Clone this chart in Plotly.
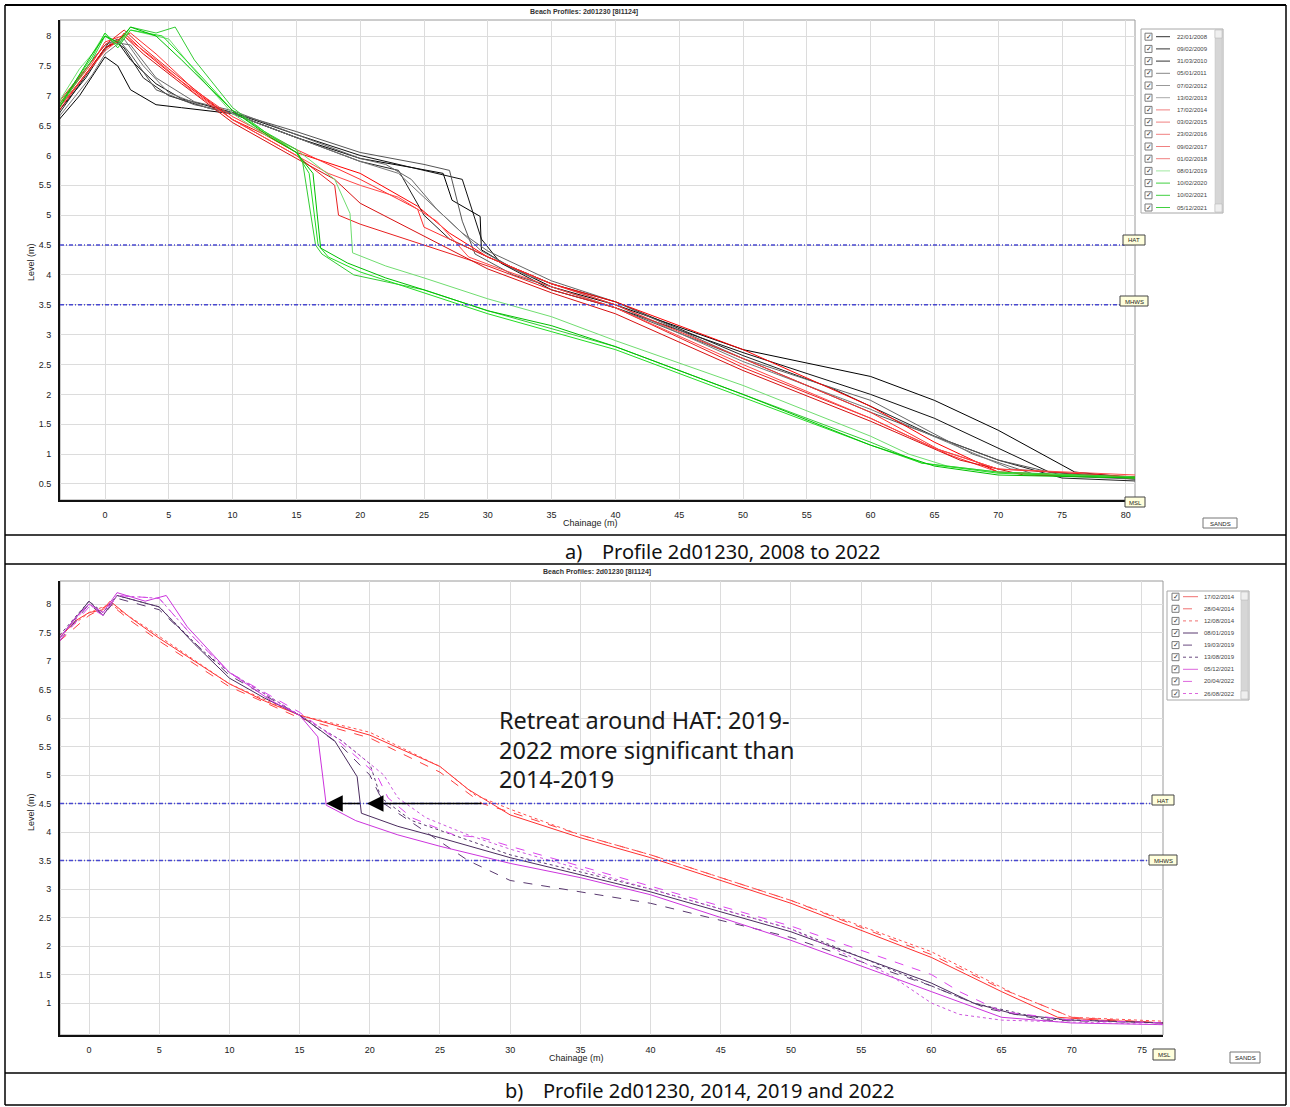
import plotly.graph_objects as go

W, H = 1290, 1107

# ------------------------------------------------------------------ data
# Panel a: Profile 2d01230, 2008 to 2022
top_dates = ["22/01/2008", "09/02/2009", "31/03/2010", "05/01/2011", "07/02/2012",
             "13/02/2013", "17/02/2014", "03/02/2015", "23/02/2016", "09/02/2017",
             "01/02/2018", "08/01/2019", "10/02/2020", "10/02/2021", "05/12/2021"]

a01_x = [-3.6, -2, 0, 1, 2, 4, 6, 10, 15, 20, 24, 26.5, 27.2, 29.4, 29.5, 31.7, 35, 40, 50, 60, 65, 70, 76, 80.8]
a01_y = [6.6, 7.0, 7.65, 7.5, 7.1, 6.85, 6.8, 6.7, 6.3, 5.95, 5.8, 5.7, 5.25, 4.98, 4.42, 4.14, 3.8, 3.5, 2.75, 2.3, 1.9, 1.4, 0.7, 0.6]
a02_x = [-3.6, -1.5, 0, 1, 2, 4, 6, 10, 15, 20, 25, 28, 29.5, 31, 35, 40, 50, 60, 65, 70, 74, 80.8]
a02_y = [6.75, 7.3, 7.8, 7.9, 7.6, 7.2, 6.95, 6.72, 6.35, 6.0, 5.75, 5.6, 4.6, 4.2, 3.75, 3.45, 2.7, 2.0, 1.6, 1.1, 0.7, 0.58]
a03_x = [-3.6, -1, 0.5, 1.5, 3, 5, 8, 10, 15, 20, 23, 25, 27, 30, 35, 40, 50, 57, 65, 70, 75, 80.8]
a03_y = [6.7, 7.5, 7.95, 7.8, 7.3, 7.0, 6.8, 6.7, 6.3, 5.9, 5.75, 5.0, 4.6, 4.3, 3.85, 3.55, 2.65, 2.1, 1.3, 0.9, 0.6, 0.55]
a04_x = [-3.6, -1, 0, 1, 2, 4, 7, 10, 15, 20, 25, 27, 28, 29, 32, 35, 40, 50, 60, 65, 70, 75, 80.8]
a04_y = [6.85, 7.6, 7.85, 7.95, 7.7, 7.1, 6.85, 6.72, 6.4, 6.05, 5.85, 5.75, 4.9, 4.35, 4.0, 3.8, 3.45, 2.6, 1.7, 1.3, 0.9, 0.65, 0.6]
a05_x = [-3.6, -1, 0.5, 2, 4, 7, 10, 15, 20, 22, 24, 26, 28, 30, 35, 40, 50, 60, 68, 73, 80.8]
a05_y = [6.8, 7.5, 7.9, 7.85, 7.3, 6.9, 6.75, 6.35, 5.95, 5.85, 5.6, 5.1, 4.7, 4.4, 3.9, 3.55, 2.6, 1.9, 1.0, 0.65, 0.58]
a06_x = [-3.6, -1, 0, 1.5, 3, 5, 8, 10, 15, 20, 23, 25, 27, 29.5, 33, 40, 50, 60, 66, 71, 80.8]
a06_y = [6.65, 7.35, 7.7, 7.95, 7.5, 7.05, 6.8, 6.7, 6.3, 5.9, 5.7, 5.3, 4.9, 4.4, 4.0, 3.5, 2.55, 1.75, 1.2, 0.75, 0.6]
a07_x = [-3.6, -1, 0, 1, 1.5, 3, 5, 7.5, 10, 12.5, 15, 20, 24.5, 27, 30, 35, 40, 50, 60, 65, 70, 75, 80.8]
a07_y = [6.8, 7.5, 7.8, 7.9, 8.05, 7.75, 7.4, 7.0, 6.6, 6.35, 6.05, 5.7, 5.15, 4.7, 4.3, 3.85, 3.55, 2.75, 1.8, 1.2, 0.7, 0.65, 0.6]
a08_x = [-3.6, -1, 0, 1.5, 3, 5, 10, 15, 18, 18.3, 20, 25, 30, 35, 40, 50, 60, 65, 70, 80.8]
a08_y = [6.9, 7.6, 7.85, 8.1, 7.8, 7.45, 6.6, 6.0, 5.5, 5.0, 4.85, 4.5, 4.15, 3.75, 3.45, 2.45, 1.6, 1.1, 0.75, 0.62]
a09_x = [-3.6, -1, 0, 2, 4, 7, 10, 15, 20, 24.5, 25, 28, 30, 35, 40, 50, 60, 66, 70, 80.8]
a09_y = [6.85, 7.55, 7.9, 8.05, 7.7, 7.1, 6.65, 6.1, 5.6, 5.1, 4.8, 4.5, 4.3, 3.85, 3.5, 2.6, 1.7, 1.0, 0.7, 0.6]
a10_x = [-3.6, 0, 1.5, 3, 6, 10, 15, 18, 20, 25, 30, 35, 40, 50, 60, 67, 72, 80.8]
a10_y = [6.75, 7.8, 8.0, 7.7, 7.2, 6.55, 5.95, 5.6, 5.2, 4.65, 4.1, 3.7, 3.35, 2.4, 1.55, 0.9, 0.65, 0.62]
a11_x = [-3.6, 0, 1.5, 4, 7, 10, 15, 17.5, 20, 23, 26, 28.5, 31, 35, 40, 50, 60, 65, 70, 80.8]
a11_y = [6.8, 7.75, 8.0, 7.6, 7.05, 6.6, 6.0, 5.7, 5.5, 5.3, 4.9, 4.3, 4.1, 3.8, 3.45, 2.5, 1.6, 1.1, 0.75, 0.65]
a12_x = [-3.6, -2, -1, 0, 1, 2, 5, 7.5, 10, 12.5, 15, 18, 19.2, 19.4, 22, 25, 30, 35, 40, 50, 60, 63, 66, 70, 80.8]
a12_y = [6.9, 7.45, 7.7, 8.05, 7.85, 8.1, 7.95, 7.3, 6.7, 6.35, 6.1, 5.6, 5.03, 4.37, 4.15, 3.95, 3.6, 3.3, 2.9, 2.15, 1.3, 1.0, 0.8, 0.7, 0.6]
a13_x = [-3.6, -1, 0, 1, 2, 4, 5.5, 7, 10, 12.5, 15, 15.5, 16.5, 17, 19.5, 25, 30, 35, 40, 50, 60, 64, 70, 80.8]
a13_y = [6.8, 7.6, 8.0, 7.85, 8.15, 8.05, 8.15, 7.6, 6.8, 6.4, 6.1, 5.87, 4.5, 4.35, 4.0, 3.75, 3.4, 3.1, 2.8, 2.0, 1.2, 0.85, 0.7, 0.62]
a14_x = [-3.6, -1, 0, 1, 2, 4.5, 7, 10, 15, 16, 16.7, 17.5, 20, 25, 30, 35, 40, 50, 60, 64, 70, 80.8]
a14_y = [6.85, 7.65, 8.05, 7.8, 8.1, 8.0, 7.45, 6.75, 6.05, 5.7, 4.5, 4.3, 4.05, 3.7, 3.35, 3.05, 2.75, 1.95, 1.15, 0.85, 0.68, 0.6]
a15_x = [-3.6, -1, 0, 1, 2, 4, 6, 10, 13, 15, 16.3, 16.9, 19, 22, 25, 30, 35, 40, 50, 60, 65, 70, 80.8]
a15_y = [6.8, 7.7, 8.0, 7.9, 8.15, 8.0, 7.6, 6.75, 6.3, 6.05, 5.7, 4.45, 4.2, 3.95, 3.75, 3.4, 3.15, 2.8, 2.0, 1.15, 0.8, 0.65, 0.6]

top_x = [a01_x, a02_x, a03_x, a04_x, a05_x, a06_x, a07_x, a08_x, a09_x, a10_x, a11_x, a12_x, a13_x, a14_x, a15_x]
top_y = [a01_y, a02_y, a03_y, a04_y, a05_y, a06_y, a07_y, a08_y, a09_y, a10_y, a11_y, a12_y, a13_y, a14_y, a15_y]

# Panel b: Profile 2d01230, 2014, 2019 and 2022
bot_dates = ["17/02/2014", "28/04/2014", "12/08/2014", "08/01/2019", "19/03/2019",
             "13/08/2019", "05/12/2021", "20/04/2022", "26/08/2022"]

b1_x = [-2.1, -1, 0, 1, 1.5, 3, 5, 7.5, 10, 12.5, 15, 20, 25, 27, 30, 35, 40, 50, 60, 65, 69, 72, 76.6]
b1_y = [7.4, 7.7, 7.85, 7.9, 8.05, 7.75, 7.4, 7.0, 6.6, 6.3, 6.05, 5.7, 5.15, 4.75, 4.3, 3.9, 3.55, 2.75, 1.8, 1.2, 0.75, 0.7, 0.65]
b2_x = [-2.1, 0, 1.5, 3, 5, 10, 15, 20, 25, 28, 30, 35, 40, 50, 60, 65, 70, 76.6]
b2_y = [7.35, 7.8, 8.0, 7.7, 7.35, 6.55, 6.0, 5.65, 5.05, 4.5, 4.35, 3.95, 3.6, 2.8, 1.85, 1.25, 0.75, 0.65]
b3_x = [-2.1, 0, 1.5, 4, 7, 10, 15, 20, 25, 27.5, 30, 35, 40, 50, 60, 66, 70, 76.6]
b3_y = [7.45, 7.85, 8.0, 7.6, 7.1, 6.6, 6.05, 5.75, 5.15, 4.65, 4.4, 3.95, 3.6, 2.8, 1.9, 1.15, 0.75, 0.68]
b4_x = [-2.1, -1, 0, 1, 2, 5, 7.5, 10, 12.5, 15, 17.5, 19.1, 19.4, 22, 25, 30, 35, 40, 50, 60, 63, 66, 70, 76.6]
b4_y = [7.4, 7.75, 8.05, 7.8, 8.15, 7.95, 7.3, 6.7, 6.35, 6.05, 5.6, 4.97, 4.33, 4.1, 3.9, 3.55, 3.25, 2.95, 2.25, 1.35, 1.0, 0.8, 0.7, 0.65]
b5_x = [-2.1, 0, 1, 2, 5, 8, 10, 15, 18, 20, 21, 24, 27, 30, 35, 40, 50, 60, 64, 68, 76.6]
b5_y = [7.35, 8.0, 7.8, 8.1, 7.9, 7.2, 6.75, 6.05, 5.5, 5.0, 4.5, 4.0, 3.5, 3.15, 2.95, 2.75, 2.15, 1.3, 0.9, 0.7, 0.65]
b6_x = [-2.1, 0, 1, 2, 5, 8, 10, 15, 18, 20, 20.8, 23, 27, 30, 35, 40, 50, 60, 63, 68, 76.6]
b6_y = [7.45, 8.05, 7.85, 8.15, 7.95, 7.2, 6.8, 6.05, 5.6, 5.2, 4.6, 4.2, 3.85, 3.6, 3.3, 3.0, 2.3, 1.3, 1.0, 0.72, 0.65]
b7_x = [-2.1, -1, 0, 1, 2, 4, 5.5, 7, 10, 13, 15, 16.3, 16.9, 19, 22, 25, 30, 35, 40, 50, 60, 65, 70, 76.6]
b7_y = [7.4, 7.75, 8.0, 7.85, 8.2, 8.05, 8.15, 7.6, 6.8, 6.3, 6.05, 5.67, 4.47, 4.2, 3.95, 3.75, 3.45, 3.2, 2.9, 2.1, 1.2, 0.75, 0.65, 0.62]
b8_x = [-2.1, 0, 1, 2, 5, 7.5, 10, 15, 18, 20.5, 21.3, 23, 26, 28, 30, 35, 40, 50, 60, 62, 65, 70, 76.6]
b8_y = [7.35, 7.95, 7.8, 8.15, 8.1, 7.4, 6.8, 6.1, 5.55, 5.0, 4.6, 4.25, 3.95, 3.9, 3.75, 3.4, 3.05, 2.35, 1.5, 1.2, 0.85, 0.7, 0.65]
b9_x = [-2.1, 0, 1, 2, 5, 7.5, 10, 15, 18, 21, 22, 24, 27, 30, 35, 40, 50, 57, 60, 62, 65, 76.6]
b9_y = [7.4, 8.0, 7.8, 8.15, 8.1, 7.4, 6.8, 6.05, 5.6, 5.0, 4.6, 4.25, 3.95, 3.7, 3.35, 3.0, 2.3, 1.5, 1.0, 0.8, 0.7, 0.62]

bot_x = [b1_x, b2_x, b3_x, b4_x, b5_x, b6_x, b7_x, b8_x, b9_x]
bot_y = [b1_y, b2_y, b3_y, b4_y, b5_y, b6_y, b7_y, b8_y, b9_y]

# reference levels (m)
HAT_LEVEL = 4.5
MHWS_LEVEL = 3.5

# arrows (chainage, level) : (tail, head)
arrow_pairs = [((28.07, 4.5), (19.8, 4.5)), ((19.4, 4.5), (16.9, 4.5))]

note_lines = ["Retreat around HAT: 2019-", "2022 more significant than", "2014-2019"]

# ------------------------------------------------------------------ styles
top_colors = ["#000000", "#111111", "#222222", "#555555", "#666666", "#777777",
              "#ff0000", "#e82020", "#ff3030", "#d81010", "#ff4848",
              "#70dd70", "#33cc33", "#22dd22", "#00c000"]
top_leg_colors = ["#333333", "#333333", "#333333", "#888888", "#999999", "#aaaaaa",
                  "#f08080", "#f08080", "#f08080", "#f08080", "#f08080",
                  "#a0e8a0", "#40d040", "#40d040", "#40d040"]
bot_colors = ["#ff3030", "#ff4040", "#ff5050", "#4a2c5e", "#5a3a70", "#5c3c72",
              "#cc33dd", "#dd44ee", "#cc55dd"]
bot_leg_colors = ["#f07070", "#f07070", "#f07070", "#5a3a70", "#6a4a80", "#6a4a80",
                  "#dd66dd", "#dd66dd", "#dd66dd"]
bot_dash = ["solid", "dash", "dot", "solid", "dash", "dot", "solid", "dash", "dot"]


def fx(p):
    return p / W


def fy(p):
    return 1 - p / H


fig = go.Figure()

for i, d in enumerate(top_dates):
    fig.add_trace(go.Scatter(x=top_x[i], y=top_y[i], mode="lines", name=d,
                             line=dict(color=top_colors[i], width=1),
                             xaxis="x", yaxis="y", showlegend=False, hoverinfo="skip"))
for i, d in enumerate(bot_dates):
    fig.add_trace(go.Scatter(x=bot_x[i], y=bot_y[i], mode="lines", name=d,
                             line=dict(color=bot_colors[i], width=1, dash=bot_dash[i]),
                             xaxis="x2", yaxis="y2", showlegend=False, hoverinfo="skip"))

tickfont = dict(family="Liberation Sans", size=9, color="#222222")
top_yt = [0.5 * k for k in range(1, 17)]
bot_yt = [0.5 * k for k in range(2, 17)]

ax_common = dict(showgrid=True, gridcolor="#dcdcdc", gridwidth=1, zeroline=False,
                 showline=True, linecolor="#111111", linewidth=2,
                 ticks="outside", ticklen=5, tickcolor="rgba(0,0,0,0)",
                 tickfont=tickfont, fixedrange=True)

fig.update_layout(
    width=W, height=H, margin=dict(l=0, r=0, t=0, b=0),
    paper_bgcolor="white", plot_bgcolor="white", showlegend=False,
    xaxis=dict(domain=[fx(60), fx(1135)], range=[-3.527, 80.72], anchor="y",
               tickmode="array", tickvals=list(range(0, 81, 5)), **ax_common),
    yaxis=dict(domain=[fy(500), fy(20)], range=[0.232, 8.268], anchor="x",
               tickmode="array", tickvals=top_yt, ticktext=[f"{v:g}" for v in top_yt], **ax_common),
    xaxis2=dict(domain=[fx(60), fx(1163)], range=[-2.066, 76.5], anchor="y2",
                tickmode="array", tickvals=list(range(0, 76, 5)), **ax_common),
    yaxis2=dict(domain=[fy(1035), fy(581)], range=[0.439, 8.404], anchor="x2",
                tickmode="array", tickvals=bot_yt, ticktext=[f"{v:g}" for v in bot_yt], **ax_common),
)

shapes = []
ann = []


def prect(x0, y0, x1, y1, line="#000", lw=1, fill="rgba(0,0,0,0)", layer="above"):
    shapes.append(dict(type="rect", xref="paper", yref="paper", x0=fx(x0), x1=fx(x1),
                       y0=fy(y1), y1=fy(y0), line=dict(color=line, width=lw),
                       fillcolor=fill, layer=layer))


def pline(x0, y0, x1, y1, color="#000", lw=1, dash="solid"):
    shapes.append(dict(type="line", xref="paper", yref="paper", x0=fx(x0), x1=fx(x1),
                       y0=fy(y0), y1=fy(y1), line=dict(color=color, width=lw, dash=dash)))


def ptext(x, y, text, size=9, color="#222", family="Liberation Sans", xanchor="center",
          yanchor="middle", textangle=0, align="center"):
    ann.append(dict(xref="paper", yref="paper", x=fx(x), y=fy(y), text=text, showarrow=False,
                    font=dict(size=size, color=color, family=family), xanchor=xanchor,
                    yanchor=yanchor, textangle=textangle, align=align))


# plot-area grey frames (top/right edges)
prect(60, 20, 1135, 500, line="#9a9a9a", lw=1, layer="below")
prect(60, 581, 1163, 1035, line="#9a9a9a", lw=1, layer="below")

# reference levels HAT / MHWS
lvl_dash = "4px,2px,1px,2px"
for lv in (HAT_LEVEL, MHWS_LEVEL):
    shapes.append(dict(type="line", xref="x", yref="y", x0=-3.527, x1=79.9, y0=lv, y1=lv,
                       line=dict(color="#4848d0", width=1.5, dash=lvl_dash)))
    shapes.append(dict(type="line", xref="x2", yref="y2", x0=-2.066, x1=75.6, y0=lv, y1=lv,
                       line=dict(color="#4848d0", width=1.5, dash=lvl_dash)))


def label_box(x0, y0, x1, y1, text, fill="#ffffdc", border="#444"):
    prect(x0, y0, x1, y1, line=border, lw=1, fill=fill)
    ptext((x0 + x1) / 2, (y0 + y1) / 2 + 0.5, text, size=6, color="#222")


label_box(1123, 235, 1145, 245, "HAT")
label_box(1120, 296, 1148, 306, "MHWS")
label_box(1125, 497, 1145, 507, "MSL")
label_box(1203, 518, 1237, 528, "SANDS", fill="#ffffff", border="#777")
label_box(1152, 795, 1174, 805, "HAT")
label_box(1149, 855, 1177, 865, "MHWS")
label_box(1153, 1049, 1175, 1060, "MSL")
label_box(1230, 1052, 1260, 1063, "SANDS", fill="#ffffff", border="#777")


# legends
def legend(x0, y0, x1, y1, dates, colors, dashes, first_y, step, cb_x, lx0, lx1, tx, sb_x0):
    prect(x0, y0, x1, y1, line="#a8a8a8", lw=1, fill="#ffffff")
    prect(sb_x0, y0 + 1, x1 - 1, y1 - 1, line="#c0c0c0", lw=0.5, fill="#d6d6d6")
    prect(sb_x0, y0 + 1, x1 - 1, y0 + 9, line="#b0b0b0", lw=0.5, fill="#efefef")
    prect(sb_x0, y1 - 9, x1 - 1, y1 - 1, line="#b0b0b0", lw=0.5, fill="#efefef")
    for i, d in enumerate(dates):
        yc = first_y + i * step
        prect(cb_x, yc - 3.5, cb_x + 7, yc + 3.5, line="#7a7a7a", lw=1, fill="#ffffff")
        ptext(cb_x + 3.8, yc, "✓", size=7, color="#333333", family="DejaVu Sans")
        pline(lx0, yc, lx1, yc, color=colors[i], lw=1, dash=dashes[i])
        ptext(tx, yc, d, size=6, color="#444444", xanchor="left")


legend(1141, 29, 1223, 213, top_dates, top_leg_colors, ["solid"] * 15,
       36.7, 12.2, 1145, 1156, 1170, 1175, 1215)
legend(1167, 591, 1249, 700, bot_dates, bot_leg_colors, bot_dash,
       596.7, 12.1, 1172, 1183, 1198, 1202, 1241)

# chart titles and axis titles
ptext(584, 12, "<b>Beach Profiles: 2d01230 [8I1124]</b>", size=7, color="#333")
ptext(597, 572, "<b>Beach Profiles: 2d01230 [8I1124]</b>", size=7, color="#333")
ptext(590, 523, "Chainage (m)", size=9, color="#222")
ptext(576, 1058, "Chainage (m)", size=9, color="#222")
ptext(31, 262, "Level (m)", size=9, color="#222", textangle=-90)
ptext(31, 812, "Level (m)", size=9, color="#222", textangle=-90)

# captions
ptext(573, 551, "a)", size=20, color="#111", family="Noto Sans")
ptext(600, 551, "Profile 2d01230, 2008 to 2022", size=20, color="#111",
      family="Noto Sans", xanchor="left")
ptext(514, 1090, "b)", size=20, color="#111", family="Noto Sans")
ptext(541, 1090, "Profile 2d01230, 2014, 2019 and 2022", size=20, color="#111",
      family="Noto Sans", xanchor="left")

# retreat note (one annotation per line to control spacing)
for k, line_txt in enumerate(note_lines):
    ptext(497, 720 + 29.5 * k, line_txt, size=23.5, color="#1a1a1a",
          family="Noto Sans", xanchor="left", align="left")

# arrows
for (tx_, ty_), (hx, hy) in arrow_pairs:
    ann.append(dict(xref="x2", yref="y2", axref="x2", ayref="y2", x=hx, y=hy, ax=tx_, ay=ty_,
                    text="", showarrow=True, arrowhead=2, arrowsize=2.2, arrowwidth=1.5,
                    arrowcolor="#000000"))

# table frame
pline(5, 5, 1286, 5, lw=2)
pline(5, 5, 5, 1105, lw=1.5)
pline(1286, 5, 1286, 1105, lw=1.5)
pline(5, 535, 1286, 535, lw=1.5)
pline(5, 564, 1286, 564, lw=1.5)
pline(5, 1073, 1286, 1073, lw=1.5)
pline(5, 1105, 1286, 1105, lw=1.5)

fig.update_layout(shapes=shapes, annotations=ann)
fig.write_html("out.html", config={"displayModeBar": False},
               post_script="document.body.style.margin='0px';document.body.style.overflow='hidden';")
